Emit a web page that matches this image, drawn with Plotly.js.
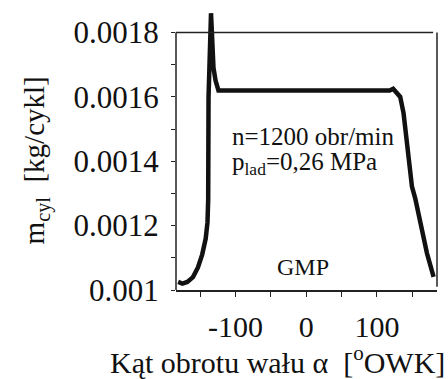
<!DOCTYPE html>
<html>
<head>
<meta charset="utf-8">
<script src="https://cdn.plot.ly/plotly-3.0.1.min.js"></script>
<style>html,body{margin:0;padding:0;background:#fff;}#chart{width:448px;height:379px;}</style>
</head>
<body>
<div id="chart"></div>
<script>
// Crank angle [deg] and cylinder charge mass [kg/cycle]
var angle = [-181, -175, -168, -160, -153, -147, -142, -139.5, -138.5, -138, -134.5, -131, -128, -124, -115, 0, 118, 123, 126, 130, 133, 137.7, 142.5, 147.2, 149.6, 154.2, 161.3, 170.8, 180.2];
var mcyl  = [0.001025, 0.00102, 0.001025, 0.00104, 0.00107, 0.00111, 0.00116, 0.00121, 0.00128, 0.0016, 0.00186, 0.00169, 0.00165, 0.00162, 0.00162, 0.00162, 0.00162, 0.001625, 0.001618, 0.001605, 0.0016, 0.00155, 0.001456, 0.001373, 0.001321, 0.001285, 0.001207, 0.001114, 0.001041];

var xTickVals = [-100, 0, 100];
var xTickText = ['-100', '0', '100'];
var xMinorTickVals = [-150, -50, 50, 150];
var yTickVals = [0.001, 0.0012, 0.0014, 0.0016, 0.0018];
var yTickText = ['0.001', '0.0012', '0.0014', '0.0016', '0.0018'];
var yMinorTickVals = [0.0011, 0.0013, 0.0015, 0.0017];

var serif = 'Liberation Serif, Times New Roman, serif';
var frameColor = '#222';

var trace = {
  x: angle, y: mcyl, type: 'scatter', mode: 'lines',
  line: {color: '#111', width: 4.5},
  hoverinfo: 'skip'
};

var layout = {
  width: 448, height: 379,
  margin: {l: 176, r: 11, t: 10, b: 89},
  paper_bgcolor: '#fff', plot_bgcolor: '#fff',
  showlegend: false,
  font: {family: serif, color: '#111'},
  xaxis: {
    range: [-184, 185], showgrid: false, zeroline: false,
    showline: true, linecolor: frameColor, linewidth: 1.5,
    tickmode: 'array', tickvals: xTickVals, ticktext: xTickText,
    ticks: 'outside', ticklen: 5, tickwidth: 1, tickcolor: frameColor,
    minor: {tickmode: 'array', tickvals: xMinorTickVals, ticks: 'outside', ticklen: 5, tickwidth: 1, tickcolor: frameColor, showgrid: false},
    ticklabelstandoff: 4,
    tickfont: {family: serif, size: 30, color: '#111'}
  },
  yaxis: {
    range: [0.001, 0.00187], showgrid: false, zeroline: false,
    showline: false,
    tickmode: 'array', tickvals: yTickVals, ticktext: yTickText,
    ticks: 'outside', ticklen: 4, tickwidth: 1, tickcolor: frameColor,
    minor: {tickmode: 'array', tickvals: yMinorTickVals, ticks: 'outside', ticklen: 4, tickwidth: 1, tickcolor: frameColor, showgrid: false},
    ticklabelstandoff: 6,
    tickfont: {family: serif, size: 31, color: '#111'}
  },
  shapes: [
    {type: 'line', xref: 'paper', yref: 'y', x0: 0, x1: 0, y0: 0.001, y1: 0.0018, line: {color: frameColor, width: 1.5}},
    {type: 'line', xref: 'paper', yref: 'y', x0: 0, x1: 0.985, y0: 0.0018, y1: 0.0018, line: {color: frameColor, width: 1.5}},
    {type: 'line', xref: 'paper', yref: 'y', x0: 1, x1: 1, y0: 0.00101, y1: 0.0018, line: {color: frameColor, width: 1.5}}
  ],
  annotations: [
    {xref: 'paper', yref: 'y', x: -0.536, y: 0.001403, text: 'm<sub>cyl</sub>\u00a0 [kg/cykl]', textangle: -90,
     showarrow: false, xanchor: 'center', yanchor: 'middle', font: {family: serif, size: 29, color: '#111'}},
    {xref: 'paper', yref: 'paper', x: 0.389, y: 0, yshift: -70, text: 'K\u0105t obrotu wa\u0142u \u03b1\u00a0 [<sup>o</sup>OWK]',
     showarrow: false, xanchor: 'center', yanchor: 'middle', font: {family: serif, size: 30, color: '#111'}},
    {xref: 'x', yref: 'y', x: -108, y: 0.001478, text: 'n=1200 obr/min', showarrow: false,
     xanchor: 'left', yanchor: 'middle', font: {family: serif, size: 25, color: '#111'}},
    {xref: 'x', yref: 'y', x: -108, y: 0.001392, text: 'p<sub>lad</sub>=0,26 MPa', showarrow: false,
     xanchor: 'left', yanchor: 'middle', font: {family: serif, size: 25, color: '#111'}},
    {xref: 'x', yref: 'y', x: -5, y: 0.00107, text: 'GMP', showarrow: false,
     xanchor: 'center', yanchor: 'middle', font: {family: serif, size: 24, color: '#111'}}
  ]
};

Plotly.newPlot('chart', [trace], layout, {displayModeBar: false, staticPlot: true});
</script>
</body>
</html>
